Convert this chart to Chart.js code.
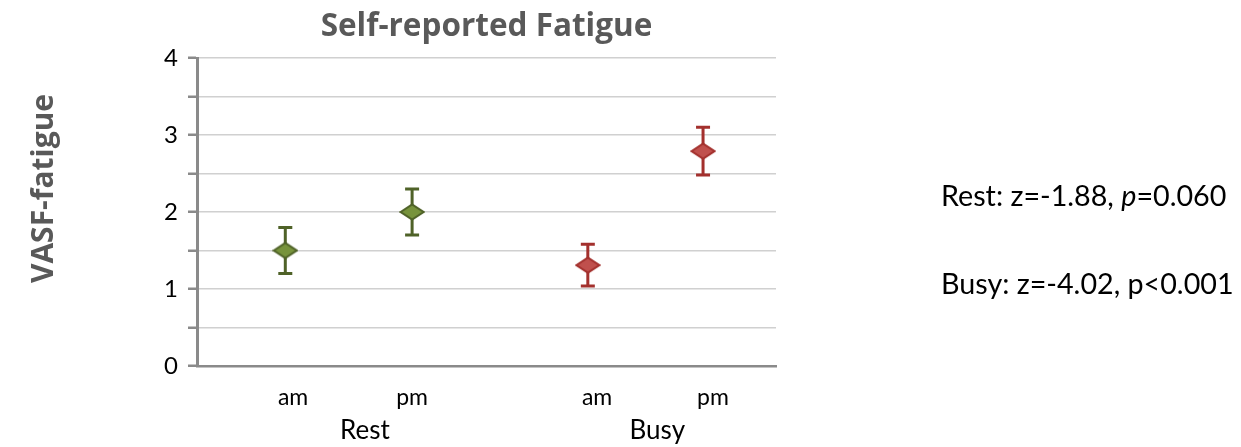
<!DOCTYPE html>
<html>
<head>
<meta charset="utf-8">
<script src="https://cdn.jsdelivr.net/npm/chart.js@4/dist/chart.umd.min.js"></script>
<style>
  html, body { margin: 0; padding: 0; background: #fff; }
  #wrap { position: relative; width: 1241px; height: 447px; }
</style>
</head>
<body>
<div id="wrap"><canvas id="chart"></canvas></div>
<script>
// Categories and group labels
const periods = ['am', 'pm', 'am', 'pm'];
const groups = ['Rest', 'Busy'];

// Mean VASF-fatigue score and error-bar half-width per condition
const restMean = [1.5, 2.0];
const restErr = [0.30, 0.30];
const busyMean = [1.31, 2.79];
const busyErr = [0.27, 0.31];

// Slot of each mean on the horizontal axis (0–20), and of its labels
const restSlots = [3.05, 7.43];
const busySlots = [13.5, 17.48];
const periodSlots = [3.32, 7.43, 13.82, 17.82];
const groupSlots = [5.8, 15.9];

// Y-axis tick labels (integers only; half steps carry a tick mark)
const yTicks = [0, 1, 2, 3, 4];

// Chart heading and axis caption
const chartTitle = 'Self-reported Fatigue';
const yCaption = 'VASF-fatigue';

// Statistics printed beside the chart
const statLines = [
  { group: 'Rest', z: '-1.88', pSym: '=', p: '0.060', italicP: true },
  { group: 'Busy', z: '-4.02', pSym: '<', p: '0.001', italicP: false }
];

const FONT = 'Lato, "Open Sans", sans-serif';
const BOLD_FONT = '"Open Sans", Lato, sans-serif';
const GREY_TEXT = '#595959';

function diamond(fill, stroke) {
  const c = document.createElement('canvas');
  c.width = 26; c.height = 18;
  const g = c.getContext('2d');
  g.beginPath();
  g.moveTo(1.5, 9); g.lineTo(13, 1.5); g.lineTo(24.5, 9); g.lineTo(13, 16.5); g.closePath();
  g.fillStyle = fill; g.fill();
  g.lineWidth = 2; g.strokeStyle = stroke; g.stroke();
  return c;
}

const series = [
  { label: 'Rest', mean: restMean, err: restErr, slots: restSlots, fill: '#77933C', stroke: '#4F6228' },
  { label: 'Busy', mean: busyMean, err: busyErr, slots: busySlots, fill: '#C0504D', stroke: '#A3302D' }
];

// Error bars with caps, drawn under the markers
const errorBars = {
  id: 'errorBars',
  beforeDatasetsDraw(chart) {
    const ctx = chart.ctx;
    const y = chart.scales.y;
    chart.data.datasets.forEach((ds, i) => {
      const s = series[i];
      const meta = chart.getDatasetMeta(i);
      meta.data.forEach((pt, j) => {
        const top = y.getPixelForValue(s.mean[j] + s.err[j]);
        const bot = y.getPixelForValue(s.mean[j] - s.err[j]);
        ctx.save();
        ctx.strokeStyle = s.stroke;
        ctx.lineWidth = 3;
        ctx.beginPath();
        ctx.moveTo(pt.x, top); ctx.lineTo(pt.x, bot);
        ctx.moveTo(pt.x - 7, top); ctx.lineTo(pt.x + 7, top);
        ctx.moveTo(pt.x - 7, bot); ctx.lineTo(pt.x + 7, bot);
        ctx.stroke();
        ctx.restore();
      });
    });
  }
};

// Heading over the plot, vertical caption and the test statistics on the right
const sideText = {
  id: 'sideText',
  afterDraw(chart) {
    const ctx = chart.ctx;
    const area = chart.chartArea;

    ctx.save();
    ctx.font = 'bold 31.5px ' + BOLD_FONT;
    ctx.fillStyle = GREY_TEXT;
    ctx.textAlign = 'center';
    ctx.textBaseline = 'middle';
    ctx.fillText(chartTitle, (area.left + area.right) / 2, 27);
    ctx.restore();

    ctx.save();
    ctx.translate(53, 188.5);
    ctx.rotate(-Math.PI / 2);
    ctx.font = 'bold 30px ' + BOLD_FONT;
    ctx.fillStyle = GREY_TEXT;
    ctx.textAlign = 'center';
    ctx.textBaseline = 'alphabetic';
    ctx.fillText(yCaption, 0, 0);
    ctx.restore();

    const rowsY = [197, 285];
    statLines.forEach((r, i) => {
      let x = 941;
      const yy = rowsY[i];
      ctx.save();
      ctx.fillStyle = '#000';
      ctx.textBaseline = 'middle';
      ctx.textAlign = 'left';
      const parts = [
        { t: r.group + ': z=' + r.z + ', ', it: false },
        { t: 'p', it: r.italicP },
        { t: r.pSym + r.p, it: false }
      ];
      parts.forEach(p => {
        ctx.font = (p.it ? 'italic ' : '') + '28.7px ' + FONT;
        ctx.fillText(p.t, x, yy);
        x += ctx.measureText(p.t).width;
      });
      ctx.restore();
    });
  }
};

new Chart(document.getElementById('chart'), {
  type: 'scatter',
  data: {
    datasets: series.map(s => ({
      label: s.label,
      data: s.mean.map((m, j) => ({ x: s.slots[j], y: m })),
      pointStyle: diamond(s.fill, s.stroke),
      pointRadius: 10,
      pointHoverRadius: 10,
      showLine: false
    }))
  },
  options: {
    responsive: true,
    maintainAspectRatio: false,
    animation: false,
    events: [],
    layout: { padding: { left: 0, right: 465, top: 58, bottom: 0 } },
    plugins: {
      legend: { display: false },
      tooltip: { enabled: false },
      title: { display: false }
    },
    scales: {
      x: {
        type: 'linear',
        position: 'bottom',
        weight: 0,
        min: 0,
        max: 20,
        afterBuildTicks: sc => { sc.ticks = periodSlots.map(v => ({ value: v })); },
        afterFit: sc => { sc.height = 45; },
        ticks: {
          autoSkip: false,
          maxRotation: 0,
          padding: 18,
          color: '#000',
          font: { family: FONT, size: 23 },
          callback: (v, i) => periods[i]
        },
        grid: { display: false, drawTicks: false, tickLength: 0 },
        border: { display: true, color: '#8a8a8a', width: 2.5 }
      },
      groupAxis: {
        type: 'linear',
        position: 'bottom',
        weight: 1,
        min: 0,
        max: 20,
        afterBuildTicks: sc => { sc.ticks = groupSlots.map(v => ({ value: v })); },
        afterFit: sc => { sc.height = 36; },
        ticks: {
          autoSkip: false,
          maxRotation: 0,
          padding: 4,
          color: '#000',
          font: { family: FONT, size: 26 },
          callback: (v, i) => groups[i]
        },
        grid: { display: false, drawTicks: false, tickLength: 0 },
        border: { display: false }
      },
      y: {
        min: 0,
        max: 4,
        afterFit: sc => { sc.width = 197; },
        ticks: {
          stepSize: 0.5,
          padding: 10,
          color: '#000',
          font: { family: FONT, size: 24 },
          callback: v => (yTicks.includes(v) ? String(v) : '')
        },
        grid: {
          color: '#d0d0d0',
          lineWidth: 1.5,
          tickColor: '#8a8a8a',
          tickLength: 9,
          tickWidth: 2.5
        },
        border: { display: true, color: '#8a8a8a', width: 3 }
      }
    }
  },
  plugins: [errorBars, sideText]
});
</script>
</body>
</html>
